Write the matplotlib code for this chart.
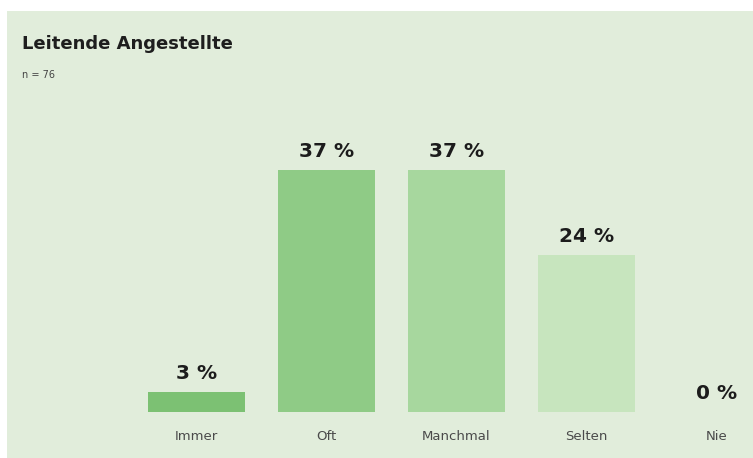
import matplotlib.pyplot as plt
from matplotlib.patches import Rectangle

kategorien = ["Immer", "Oft", "Manchmal", "Selten", "Nie"]
anteile = [3, 37, 37, 24, 0]
farben = ["#7cc173", "#8fcb86", "#a7d79e", "#c7e5be", "#dcefd6"]

titel = "Leitende Angestellte"
untertitel = "n = 76"
hintergrund = "#e1eddb"

fig = plt.figure(figsize=(7.53, 4.58), dpi=100)
fig.patch.set_facecolor("white")
# gruene Flaeche mit schmalem weissen Rand oben/links
fig.patches.append(Rectangle((7 / 753, 0), 1, 1 - 11 / 458, transform=fig.transFigure,
                             facecolor=hintergrund, edgecolor="none", zorder=-5))

ax = fig.add_axes([131.5 / 753, 46 / 458, 621.5 / 753, 261.6 / 458])
ax.set_zorder(2)
ax.set_facecolor("none")
x = range(len(kategorien))
ax.bar(x, anteile, width=0.745, color=farben)
ax.set_xlim(-0.5, 4.28)
ax.set_ylim(0, 40)

for i, v in zip(x, anteile):
    ax.annotate(f"{v} %", (i, v), xytext=(0, 9.5), textcoords="offset points",
                ha="center", va="baseline", fontsize=14.5, fontweight="bold",
                color="#1c1c1c")

ax.set_xticks(list(x))
ax.set_xticklabels(kategorien, fontsize=9.5, color="#4a4a4a")
ax.tick_params(axis="x", length=0, pad=13)
ax.set_yticks([])
for s in ax.spines.values():
    s.set_visible(False)

fig.text(22 / 753, 1 - 49 / 458, titel, fontsize=13, fontweight="bold",
         color="#1e1e1e", va="baseline", ha="left")
fig.text(22 / 753, 1 - 78 / 458, untertitel, fontsize=7, color="#444444",
         va="baseline", ha="left")

plt.savefig("out.png", dpi=100, facecolor=fig.get_facecolor())
